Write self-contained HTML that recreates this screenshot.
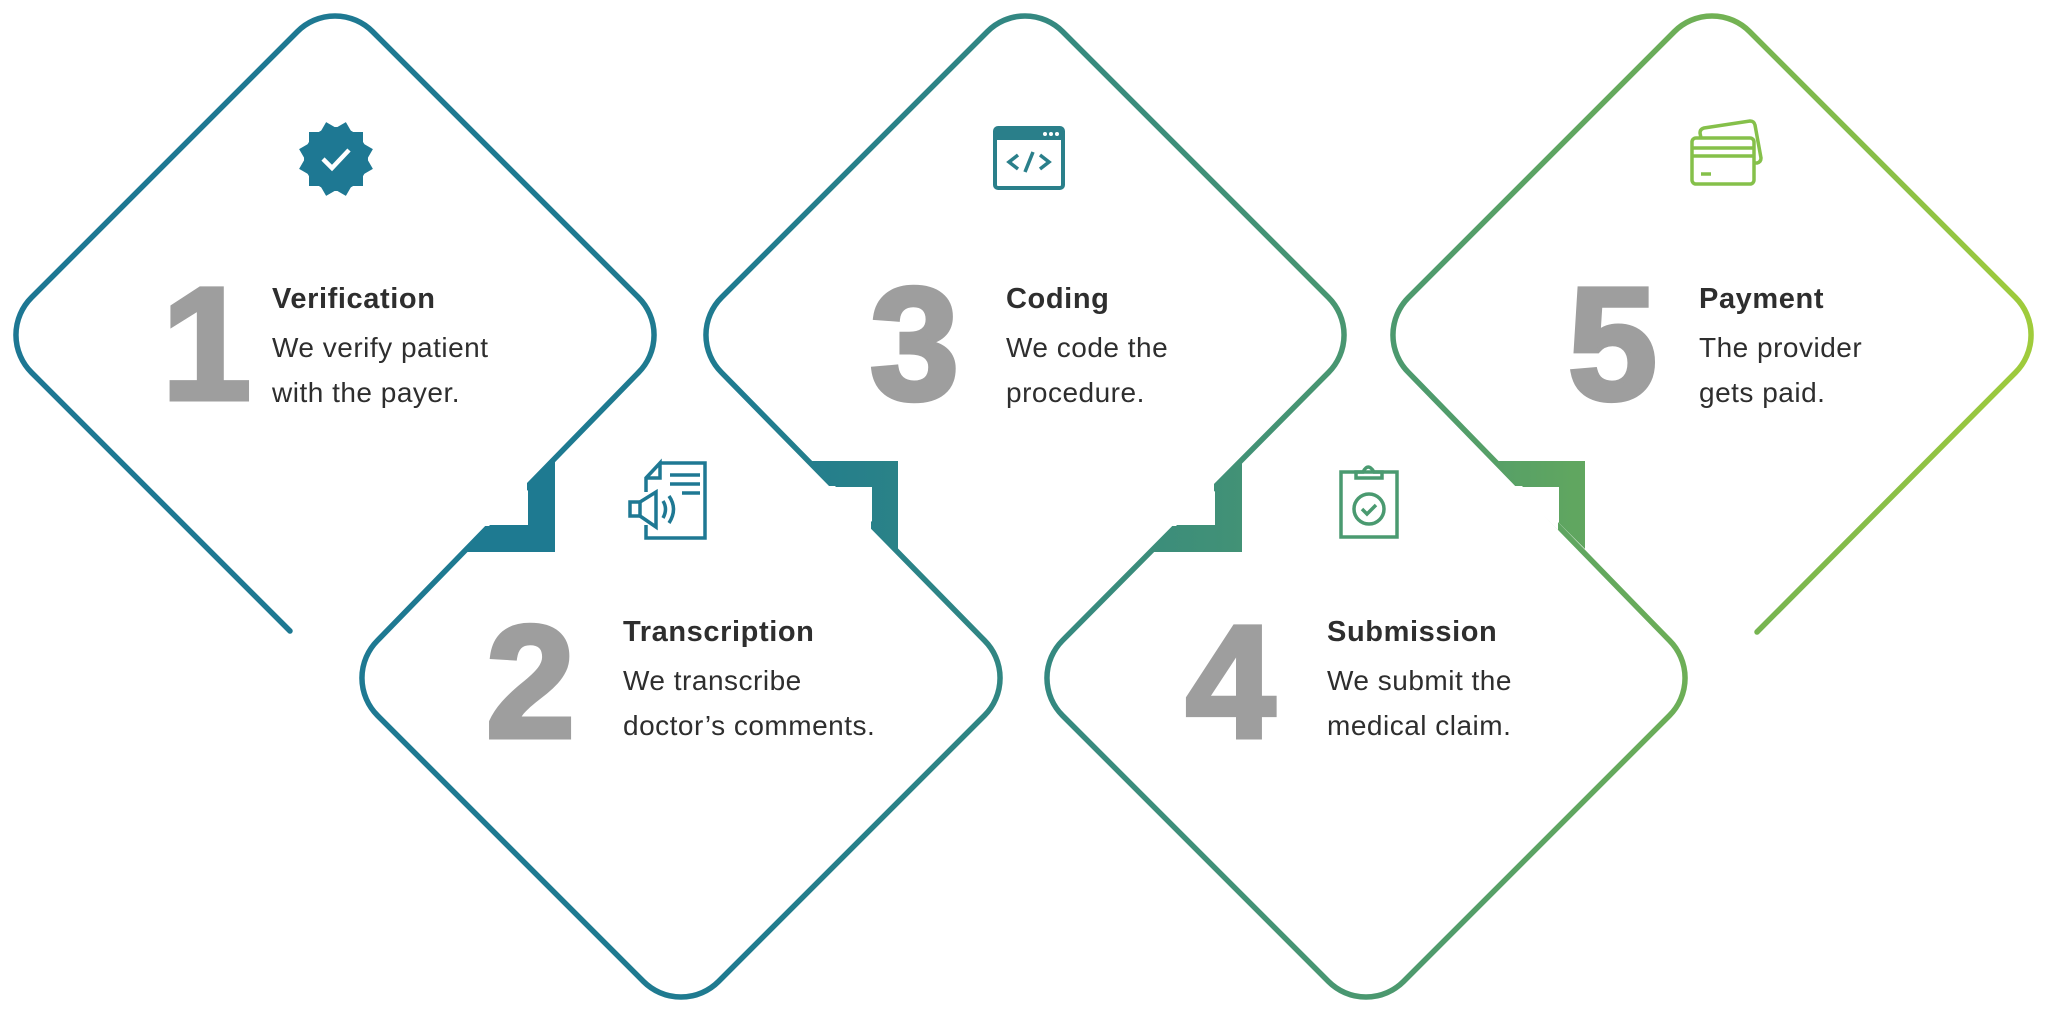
<!DOCTYPE html>
<html><head><meta charset="utf-8"><style>
html,body{margin:0;padding:0;background:#fff;}
svg{display:block;}
.t{font-family:"Liberation Sans",sans-serif;font-weight:bold;font-size:29px;fill:#2e2e2e;letter-spacing:0.6px;}
.d{font-family:"Liberation Sans",sans-serif;font-size:28px;fill:#2e2e2e;letter-spacing:0.5px;}
.n{font-family:"Liberation Sans",sans-serif;font-weight:bold;font-size:160px;fill:#9e9e9e;stroke:#9e9e9e;stroke-width:5;}
</style></head><body>
<svg width="2048" height="1014" viewBox="0 0 2048 1014" xmlns="http://www.w3.org/2000/svg">
<defs>
<linearGradient id="g" gradientUnits="userSpaceOnUse" x1="0" y1="0" x2="2048" y2="0">
<stop offset="0" stop-color="#1d7793"/>
<stop offset="0.36" stop-color="#1f7b90"/>
<stop offset="0.55" stop-color="#3a8c7c"/>
<stop offset="0.7" stop-color="#4f9b6c"/>
<stop offset="0.85" stop-color="#74b352"/>
<stop offset="1" stop-color="#a2cd3a"/>
</linearGradient>
</defs>
<path fill="none" stroke="url(#g)" stroke-width="5.5" stroke-linecap="round" d="
M290 631 L31.5 372.5 A53 53 0 0 1 31.5 297.5
L297.5 31.5 A53 53 0 0 1 372.5 31.5
L638.5 297.5 A53 53 0 0 1 638.5 372.5
L377.5 640.5 A53 53 0 0 0 377.5 715.5
L643.5 981.5 A53 53 0 0 0 718.5 981.5
L984.5 715.5 A53 53 0 0 0 984.5 640.5
L721.5 372.5 A53 53 0 0 1 721.5 297.5
L987.5 31.5 A53 53 0 0 1 1062.5 31.5
L1328.5 297.5 A53 53 0 0 1 1328.5 372.5
L1062.5 640.5 A53 53 0 0 0 1062.5 715.5
L1328.5 981.5 A53 53 0 0 0 1403.5 981.5
L1669.5 715.5 A53 53 0 0 0 1669.5 640.5
L1408.5 372.5 A53 53 0 0 1 1408.5 297.5
L1674.5 31.5 A53 53 0 0 1 1749.5 31.5
L2015.5 297.5 A53 53 0 0 1 2015.5 372.5
L1757 632"/>
<g fill="#fff">
<polygon points="527,478 527,526 479,526"/>
<polygon points="871,486 871,530 827,486"/>
<polygon points="1214,478 1214,526 1166,526"/>
<polygon points="1558,486 1558,530 1514,486"/>
</g>
<g fill="url(#g)">
<polygon points="555,460 555,552 463,552 490,525 528,525 528,487"/>
<polygon points="810,461 898,461 898,549 872,523 872,487 836,487"/>
<polygon points="1242,460 1242,552 1150,552 1177,525 1215,525 1215,487"/>
<polygon points="1497,461 1585,461 1585,549 1559,523 1559,487 1523,487"/>
</g>

<text class="n" x="162" y="399">1</text>
<text class="n" x="486" y="737">2</text>
<text class="n" x="870" y="399">3</text>
<text class="n" x="1186" y="737">4</text>
<text class="n" x="1568" y="399">5</text>

<text class="t" x="272" y="308">Verification</text>
<text class="d" x="272" y="357">We verify patient</text>
<text class="d" x="272" y="402">with the payer.</text>

<text class="t" x="623" y="641">Transcription</text>
<text class="d" x="623" y="690">We transcribe</text>
<text class="d" x="623" y="735">doctor’s comments.</text>

<text class="t" x="1006" y="308">Coding</text>
<text class="d" x="1006" y="357">We code the</text>
<text class="d" x="1006" y="402">procedure.</text>

<text class="t" x="1327" y="641">Submission</text>
<text class="d" x="1327" y="690">We submit the</text>
<text class="d" x="1327" y="735">medical claim.</text>

<text class="t" x="1699" y="308">Payment</text>
<text class="d" x="1699" y="357">The provider</text>
<text class="d" x="1699" y="402">gets paid.</text>

<g transform="translate(336,159)" fill="#1e7893">
<rect x="-27" y="-27" width="54" height="54"/>
<rect x="-27" y="-27" width="54" height="54" transform="rotate(30)"/>
<rect x="-27" y="-27" width="54" height="54" transform="rotate(60)"/>
<circle r="32"/>
<polyline points="-13,0 -4,9 13,-9" fill="none" stroke="#fff" stroke-width="4.5"/>
</g>

<g fill="none" stroke="#1e7893" stroke-width="3.5">
<path d="M660 463 L705 463 L705 538 L646 538 L646 525 M646 492 L646 478 L660 463 L660 478 L646 478"/>
<line x1="670" y1="475" x2="700" y2="475"/>
<line x1="670" y1="484" x2="700" y2="484"/>
<line x1="682" y1="493" x2="700" y2="493"/>
<rect x="630" y="502" width="10" height="14"/>
<path d="M640 502 L656 492 L656 527 L640 516"/>
<path d="M663 501 Q668 509 663 518"/>
<path d="M669 496 Q678 509 669 523"/>
</g>

<g>
<rect x="995" y="128" width="68" height="60" rx="3" fill="none" stroke="#2a7f8a" stroke-width="4"/>
<rect x="995" y="128" width="68" height="12" fill="#2a7f8a"/>
<circle cx="1045" cy="134" r="2" fill="#fff"/><circle cx="1051" cy="134" r="2" fill="#fff"/><circle cx="1057" cy="134" r="2" fill="#fff"/>
<g fill="none" stroke="#2a7f8a" stroke-width="3.5">
<polyline points="1018,155 1009,162 1018,169"/>
<polyline points="1040,155 1049,162 1040,169"/>
<line x1="1033" y1="152" x2="1025" y2="172"/>
</g>
</g>

<g fill="none" stroke="#4a9a70" stroke-width="3.5">
<rect x="1341" y="472" width="56" height="65"/>
<path d="M1356 478 L1356 472 L1363 472 Q1368 462 1374 472 L1382 472 L1382 478 Z"/>
<circle cx="1369" cy="509" r="15"/>
<polyline points="1362,509 1367,514 1376,505"/>
</g>

<g fill="none" stroke="#85c04a" stroke-width="3.5">
<path d="M1701 138 L1700 133 Q1700 129 1704 128 L1750 121 Q1754 121 1755 125 L1761 158 Q1761 162 1757 163 L1754 163"/>
<rect x="1692" y="138" width="62" height="46" rx="4"/>
<line x1="1692" y1="148" x2="1754" y2="148"/>
<line x1="1692" y1="156" x2="1754" y2="156"/>
<line x1="1701" y1="174" x2="1711" y2="174"/>
</g>
</svg>
</body></html>
